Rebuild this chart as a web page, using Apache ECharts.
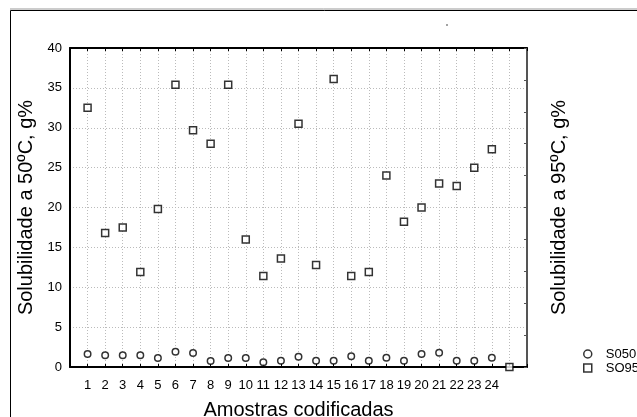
<!DOCTYPE html>
<html>
<head>
<meta charset="utf-8">
<script src="https://cdn.jsdelivr.net/npm/echarts@6/dist/echarts.min.js"></script>
<style>html,body{margin:0;padding:0;background:#fff}#c{width:637px;height:417px}</style>
</head>
<body>
<div id="c"></div>
<script>
var samples = [1,2,3,4,5,6,7,8,9,10,11,12,13,14,15,16,17,18,19,20,21,22,23,24,25];
var s050 = [1.63,1.46,1.46,1.46,1.13,1.92,1.76,0.75,1.13,1.13,0.59,0.79,1.29,0.79,0.79,1.34,0.79,1.17,0.79,1.63,1.8,0.79,0.79,1.17];
var so95 = [32.5,16.8,17.5,11.9,19.8,35.4,29.7,28.0,35.4,16.0,11.4,13.6,30.5,12.8,36.1,11.4,11.9,24.0,18.2,20.0,23.0,22.7,25.0,27.3,0];
var yTicks = [0,5,10,15,20,25,30,35,40];
var xLabels = ['1','2','3','4','5','6','7','8','9','10','11','12','13','14','15','16','17','18','19','20','21','22','23','24'];

var font = 'Liberation Sans, Arial, sans-serif';
function pairs(vals){ return vals.map(function(v,i){ return [samples[i], v]; }); }
var markStyle = { color: '#fff', borderColor: '#000', borderWidth: 1.5 };

var chart = echarts.init(document.getElementById('c'));
chart.setOption({
  animation: false,
  backgroundColor: '#fff',
  textStyle: { fontFamily: font },
  grid: { left: 70, top: 48, width: 457, height: 319, outerBoundsMode: 'none', containLabel: false },
  graphic: [
    { type: 'line', shape: { x1: 10, y1: 9, x2: 637, y2: 9 }, style: { stroke: '#999', lineWidth: 1 } },
    { type: 'rect', shape: { x: 10.5, y: 10.5, width: 700, height: 500 }, style: { fill: null, stroke: '#000', lineWidth: 1 } },
    { type: 'circle', shape: { cx: 447, cy: 25, r: 0.7 }, style: { fill: '#000' } }
  ],
  legend: {
    orient: 'vertical', left: 583, top: 347, itemWidth: 8, itemHeight: 8, itemGap: 0, padding: 0,
    textStyle: { fontFamily: font, fontSize: 13, color: '#000', lineHeight: 14, padding: [0,0,0,9] },
    data: [
      { name: 'S050', icon: 'circle', itemStyle: markStyle },
      { name: 'SO95', icon: 'rect', itemStyle: markStyle }
    ]
  },
  xAxis: [{
    type: 'value', min: 0, max: 26, interval: 1,
    name: 'Amostras codificadas', nameLocation: 'middle', nameGap: 33,
    nameTextStyle: { fontFamily: font, fontSize: 20, color: '#000' },
    axisLine: { onZero: false, lineStyle: { color: '#000', width: 2 } },
    axisTick: { inside: true, length: 3, lineStyle: { color: '#000' } },
    axisLabel: { margin: 12, fontSize: 13, color: '#000', fontFamily: font,
      formatter: function(v){ return (v >= 1 && v <= 24) ? xLabels[v-1] : ''; } },
    splitLine: { show: true, lineStyle: { color: '#bbb', type: [1,2], width: 1 } }
  }, {
    type: 'value', position: 'top', min: 0, max: 26, interval: 1,
    axisLine: { show: true, onZero: false, lineStyle: { color: '#000', width: 2 } },
    axisTick: { inside: true, length: 3, lineStyle: { color: '#000' } },
    axisLabel: { show: false }, splitLine: { show: false }
  }],
  yAxis: [{
    type: 'value', min: 0, max: 40, interval: 5,
    name: 'Solubilidade a 50ºC, g%', nameLocation: 'middle', nameGap: 32, nameRotate: 90,
    nameTextStyle: { fontFamily: font, fontSize: 20, color: '#000' },
    axisLine: { show: true, onZero: false, lineStyle: { color: '#000', width: 2 } },
    axisTick: { show: false },
    axisLabel: { margin: 8, fontSize: 13, color: '#000', fontFamily: font,
      formatter: function(v){ return yTicks.indexOf(v) >= 0 ? String(v) : ''; } },
    splitLine: { show: true, lineStyle: { color: '#bbb', type: [1,2], width: 1 } }
  }, {
    type: 'value', position: 'right', min: 0, max: 10, interval: 1,
    name: 'Solubilidade a 95ºC, g%', nameLocation: 'middle', nameGap: 22, nameRotate: 90,
    nameTextStyle: { fontFamily: font, fontSize: 20, color: '#000' },
    axisLine: { show: true, onZero: false, lineStyle: { color: '#555', width: 2 } },
    axisTick: { show: true, inside: true, length: 3, lineStyle: { color: '#555' } },
    axisLabel: { show: false }, splitLine: { show: false }
  }],
  series: [{
    name: 'S050', type: 'scatter', data: pairs(s050), symbol: 'circle', symbolSize: 6.5,
    itemStyle: markStyle
  }, {
    name: 'SO95', type: 'scatter', data: pairs(so95), symbol: 'rect', symbolSize: 7,
    itemStyle: markStyle
  }]
});
</script>
</body>
</html>
